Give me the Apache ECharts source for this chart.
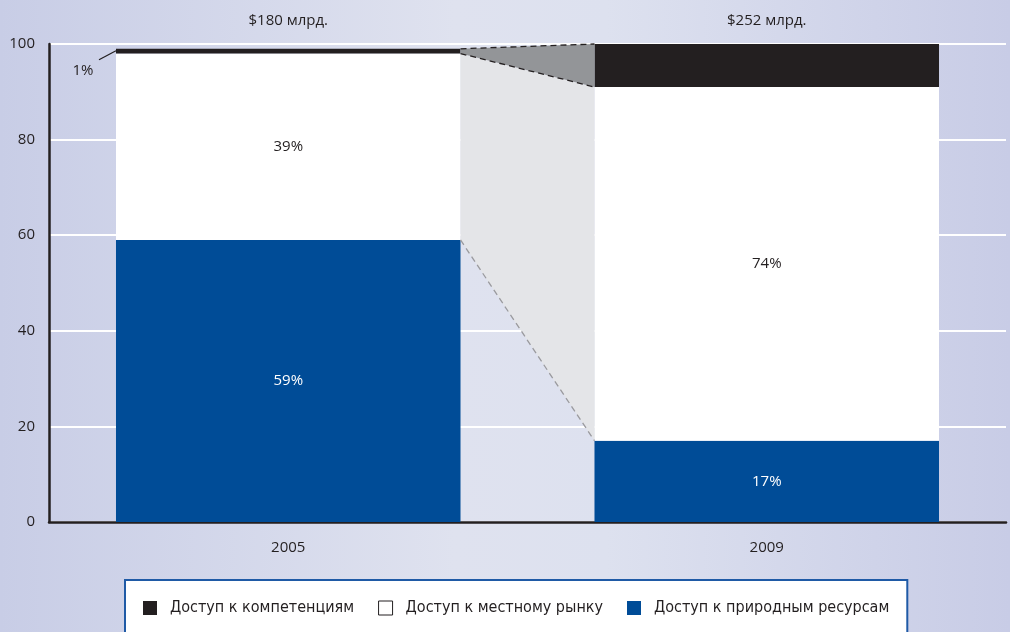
<!DOCTYPE html>
<html>
<head>
<meta charset="utf-8">
<script src="https://cdn.jsdelivr.net/npm/echarts@6/dist/echarts.min.js"></script>
<style>
html,body{margin:0;padding:0;}
#chart{width:1010px;height:632px;}
</style>
</head>
<body>
<div id="chart"></div>
<script>
var years = ['2005', '2009'];
var totals = ['$180 млрд.', '$252 млрд.'];
var resources = [59, 17];
var market = [39, 74];
var competence = [1, 9];
var yTicks = [0, 20, 40, 60, 80, 100];

var names = ['Доступ к компетенциям', 'Доступ к местному рынку', 'Доступ к природным ресурсам'];
var FONT = '"Liberation Sans Narrow", "DejaVu Sans Condensed", "Open Sans", sans-serif';
var FONT2 = '"Open Sans", "Noto Sans", sans-serif';
var BAR_FRAC = 0.72;

var chart = echarts.init(document.getElementById('chart'));

function renderConnector(params, api) {
  var band = api.size([1, 0])[0];
  var half = band * BAR_FRAC / 2;
  var c1 = [resources[0], resources[1]];
  var c2 = [resources[0] + market[0], resources[1] + market[1]];
  var c3 = [c2[0] + competence[0], c2[1] + competence[1]];
  var x1 = api.coord([0, 0])[0] + half;
  var x2 = api.coord([1, 0])[0] - half;
  var xl = api.coord([0, 0])[0] - half;
  function y(v) { return api.coord([0, v])[1]; }
  var dash = { stroke: '#231f20', lineWidth: 1.3, lineDash: [6, 4], fill: null };
  return {
    type: 'group',
    children: [
      { type: 'polygon', shape: { points: [[x1, y(c1[0])], [x1, y(c2[0])], [x2, y(c2[1])], [x2, y(c1[1])]] },
        style: { fill: '#e4e5e8' } },
      { type: 'polygon', shape: { points: [[x1, y(c2[0])], [x1, y(c3[0])], [x2, y(c3[1])], [x2, y(c2[1])]] },
        style: { fill: '#939598' } },
      { type: 'line', shape: { x1: x1, y1: y(c3[0]), x2: x2, y2: y(c3[1]) }, style: dash },
      { type: 'line', shape: { x1: x1, y1: y(c2[0]), x2: x2, y2: y(c2[1]) }, style: dash },
      { type: 'line', shape: { x1: x1, y1: y(c1[0]), x2: x2, y2: y(c1[1]) },
        style: { stroke: '#9a9a9e', lineWidth: 1.3, lineDash: [6, 4], fill: null } },
      { type: 'line', shape: { x1: xl, y1: y(c2[0] + 0.6), x2: xl - 17, y2: y(c2[0] + 0.6) + 9 },
        style: { stroke: '#231f20', lineWidth: 1.2 } },
      { type: 'text', style: { x: xl - 33, y: y(c2[0] + 0.6) + 20, text: competence[0] + '%',
        fill: '#231f20', font: '15px ' + FONT2, align: 'center', verticalAlign: 'middle' } }
    ]
  };
}

var option = {
  backgroundColor: {
    type: 'linear', x: 0, y: 0, x2: 1, y2: 0,
    colorStops: [
      { offset: 0, color: '#c8cde6' },
      { offset: 0.45, color: '#dfe2ef' },
      { offset: 0.6, color: '#dde1ef' },
      { offset: 1, color: '#c8cce6' }
    ]
  },
  animation: false,
  textStyle: { fontFamily: FONT2 },
  grid: { left: 49, right: 4, top: 44, bottom: 110, containLabel: false },
  legend: {
    left: 125, top: 580,
    data: [
      { name: names[0] },
      { name: names[1], itemStyle: { color: '#ffffff', borderColor: '#231f20', borderWidth: 1 } },
      { name: names[2] }
    ],
    icon: 'rect', itemWidth: 14, itemHeight: 14, itemGap: 24,
    backgroundColor: '#ffffff', borderColor: '#1f5aa6', borderWidth: 2,
    padding: [20, 18, 30, 18],
    textStyle: { fontFamily: FONT, fontSize: 16, color: '#231f20', padding: [0, 0, 0, 8] }
  },
  xAxis: [
    {
      type: 'category', data: years, position: 'bottom',
      axisLine: { show: true, lineStyle: { color: '#231f20', width: 2.5 } },
      axisTick: { show: false },
      axisLabel: { color: '#231f20', fontSize: 15, margin: 18, fontFamily: FONT2 }
    },
    {
      type: 'category', data: totals, position: 'top',
      axisLine: { show: false }, axisTick: { show: false },
      axisLabel: { color: '#231f20', fontSize: 15, margin: 16, fontFamily: FONT2 }
    }
  ],
  yAxis: {
    type: 'value', min: yTicks[0], max: yTicks[yTicks.length - 1], interval: 20,
    axisLine: { show: true, lineStyle: { color: '#231f20', width: 2.5 } },
    axisTick: { show: false },
    axisLabel: { color: '#231f20', fontSize: 15, margin: 14, fontFamily: FONT2 },
    splitLine: { show: true, lineStyle: { color: '#ffffff', width: 2 } }
  },
  series: [
    {
      name: names[2], type: 'bar', stack: 'a', data: resources, barWidth: (BAR_FRAC * 100) + '%',
      itemStyle: { color: '#004c97' },
      label: { show: true, position: 'inside', formatter: '{c}%', color: '#ffffff', fontSize: 15, fontFamily: FONT2 }
    },
    {
      name: names[1], type: 'bar', stack: 'a', data: market, barWidth: (BAR_FRAC * 100) + '%',
      itemStyle: { color: '#ffffff' },
      label: { show: true, position: 'inside', formatter: '{c}%', color: '#231f20', fontSize: 15, fontFamily: FONT2 }
    },
    {
      name: names[0], type: 'bar', stack: 'a', data: competence, barWidth: (BAR_FRAC * 100) + '%',
      itemStyle: { color: '#231f20' },
      label: { show: false }
    },
    {
      type: 'custom', name: 'connector', data: [[0, 0]], renderItem: renderConnector,
      silent: true, z: 3, clip: false
    }
  ]
};
chart.setOption(option);
</script>
</body>
</html>
